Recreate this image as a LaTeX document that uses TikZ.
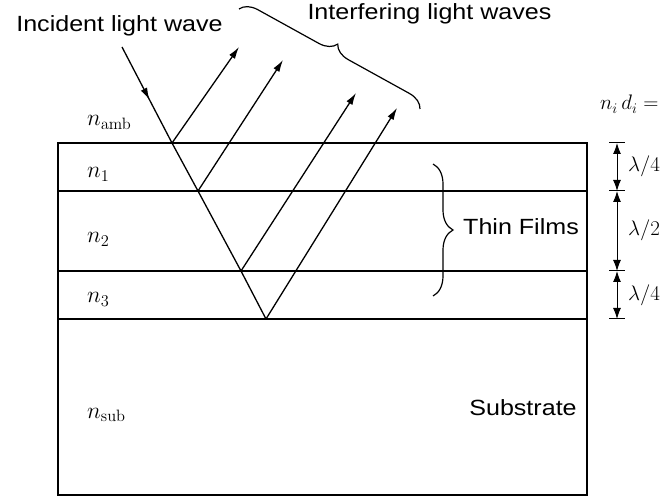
\documentclass[tikz,border=0pt]{standalone}
\usepackage{fix-cm}
\usepackage[no-math]{fontspec}
\setmainfont{Liberation Sans}[FakeStretch=1.14]
\usetikzlibrary{arrows.meta, decorations.pathreplacing, decorations.markings}

\begin{document}
\begin{tikzpicture}[
  x=1pt, y=-1pt,
  film/.style={line width=1.6pt},
  ray/.style={line width=1.3pt},
  rayout/.style={ray, -{Latex[length=12pt,width=7pt]}},
  midarrow/.style={postaction={decorate}, decoration={markings,
      mark=at position 0.55 with {\arrow{Latex[length=12pt,width=7pt]}}}},
  dim/.style={line width=1pt, {Latex[length=11pt,width=8pt]}-{Latex[length=11pt,width=8pt]}},
  bracket/.style={line width=1.2pt, decorate, decoration={brace, amplitude=#1}},
  sanstext/.style={font=\fontsize{22}{26}\selectfont, inner sep=0pt, anchor=base},
  mathtext/.style={font=\fontsize{21}{25}\selectfont, inner sep=0pt, anchor=base west},
  layertext/.style={mathtext, font=\fontsize{23.5}{28}\selectfont}
]
\useasboundingbox (0,0) rectangle (662,497);

% hit points of the light path
\coordinate (src) at (122,47);
\coordinate (h1) at (172,143);
\coordinate (h2) at (198,191);
\coordinate (h3) at (241,271);
\coordinate (h4) at (266,319);
\coordinate (o1) at (239,47);
\coordinate (o2) at (283,60);
\coordinate (o3) at (356,93);
\coordinate (o4) at (397,108);

% layers
\draw[film] (58,143) rectangle (587,495);
\foreach \y in {191,271,319}
  \draw[film] (58,\y) -- (587,\y);

% rays
\draw[ray, midarrow] (src) -- (h1);
\draw[ray] (h1) -- (h2) -- (h3) -- (h4);
\foreach \i in {1,...,4}
  \draw[rayout] (h\i) -- (o\i);

% braces
\coordinate (wavesA) at (239,9);
\coordinate (wavesB) at (420,109);
\coordinate (filmsA) at (433,164);
\coordinate (filmsB) at (433,296);
\draw[bracket=17] (wavesA) -- (wavesB);
\draw[bracket=20] (filmsA) -- (filmsB);

\node[sanstext] (incident)  at (119.5,32) {Incident light wave};
\node[sanstext] (waves)     at (429.5,20) {Interfering light waves};
\node[sanstext] (films)     at (521,235)  {Thin Films};
\node[sanstext] (substrate) at (523,415)  {Substrate};

\node[layertext] (namb) at (87,126) {$n_{\mathrm{amb}}$};
\node[layertext] (n1)   at (87,178) {$n_1$};
\node[layertext] (n2)   at (87,243) {$n_2$};
\node[layertext] (n3)   at (87,303) {$n_3$};
\node[layertext] (nsub) at (87,418) {$n_{\mathrm{sub}}$};
\node[mathtext]  (nd)   at (600,110) {$n_i\,d_i =$};

% thickness marks
\foreach \y [count=\k from 0] in {143,191,271,319} {
  \coordinate (d\k) at (617,\y);
  \draw[line width=1pt] (609,\y) -- (625,\y);
}
\draw[dim] (d0) -- (d1);
\draw[dim] (d1) -- (d2);
\draw[dim] (d2) -- (d3);

\node[mathtext, anchor=west] (q1)   at (628,166) {$\lambda/4$};
\node[mathtext, anchor=west] (half) at (628,230) {$\lambda/2$};
\node[mathtext, anchor=west] (q3)   at (628,295) {$\lambda/4$};
\end{tikzpicture}
\end{document}
